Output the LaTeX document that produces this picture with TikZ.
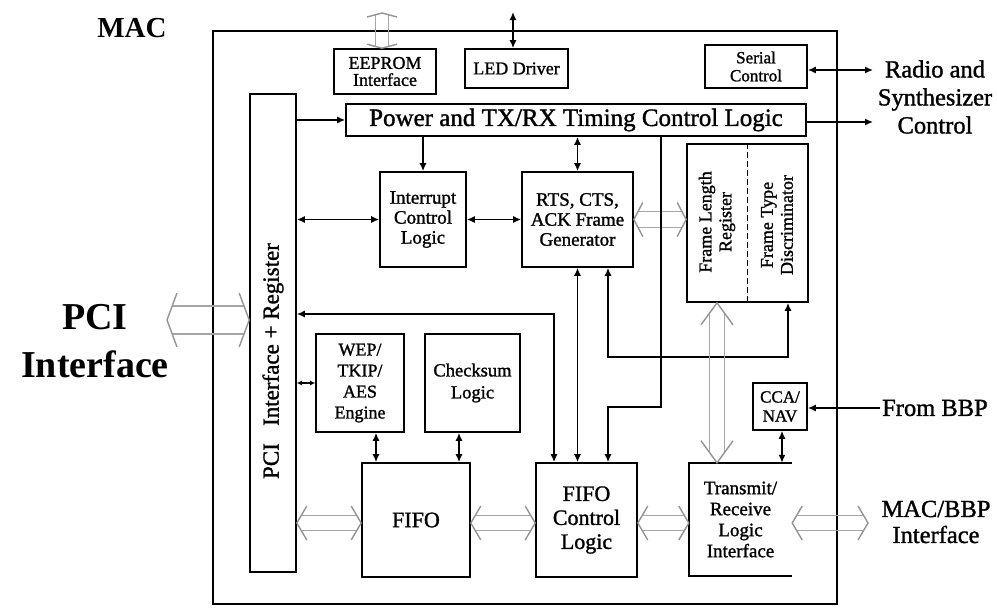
\documentclass[tikz,border=0pt]{standalone}
\usepackage{fontspec}
\setmainfont{Liberation Serif}[FakeBold=1.3]
\newfontfamily\boldlabel{Liberation Serif Bold}
\usetikzlibrary{arrows.meta,calc}
\newcommand\fs[2]{\fontsize{#1}{#2}\selectfont}
% horizontal hollow double arrow: #1 left tip, #2 right tip, #3 half gap, #4 head length, #5 head half width
\newcommand\hollowH[5]{%
  \draw[hshaft] let \p1=#1, \p2=#2 in
    ({\x1+#4*#3/#5*1pt},{\y1+#3*1pt}) -- ({\x2-#4*#3/#5*1pt},{\y1+#3*1pt})
    ({\x1+#4*#3/#5*1pt},{\y1-#3*1pt}) -- ({\x2-#4*#3/#5*1pt},{\y1-#3*1pt});
  \draw[hhead] let \p1=#1, \p2=#2 in
    ({\x1+#4*1pt},{\y1+#5*1pt}) -- (\x1,\y1) -- ({\x1+#4*1pt},{\y1-#5*1pt})
    ({\x2-#4*1pt},{\y1+#5*1pt}) -- (\x2,\y1) -- ({\x2-#4*1pt},{\y1-#5*1pt});
}
% vertical hollow double arrow: #1 top tip, #2 bottom tip
\newcommand\hollowV[5]{%
  \draw[hshaft] let \p1=#1, \p2=#2 in
    ({\x1+#3*1pt},{\y1-#4*#3/#5*1pt}) -- ({\x1+#3*1pt},{\y2+#4*#3/#5*1pt})
    ({\x1-#3*1pt},{\y1-#4*#3/#5*1pt}) -- ({\x1-#3*1pt},{\y2+#4*#3/#5*1pt});
  \draw[hhead] let \p1=#1, \p2=#2 in
    ({\x1-#5*1pt},{\y1-#4*1pt}) -- (\x1,\y1) -- ({\x1+#5*1pt},{\y1-#4*1pt})
    ({\x1-#5*1pt},{\y2+#4*1pt}) -- (\x1,\y2) -- ({\x1+#5*1pt},{\y2+#4*1pt});
}
\begin{document}
\begin{tikzpicture}[x=1pt,y=-1pt,
  box/.style={draw, line width=1.6pt, inner sep=0pt, align=center},
  plain/.style={inner sep=0pt, align=center},
  conn/.style={line width=1.5pt},
  tip/.style={conn,-{Latex[length=8pt,width=7pt]}},
  both/.style={conn,{Latex[length=8pt,width=7pt]}-{Latex[length=8pt,width=7pt]}},
  smallboth/.style={conn,{Latex[length=5pt,width=5pt]}-{Latex[length=5pt,width=5pt]}},
  hshaft/.style={line width=1.5pt, gray!70},
  hhead/.style={line width=1.4pt, gray!85},
  boxtext/.style={font=\fs{19}{20}}]
\useasboundingbox (0,0) rectangle (997,608);

% outer MAC box
\node[box, minimum width=624pt, minimum height=573pt] (mac) at (525,317.5) {};
\node[plain, font=\boldlabel\fs{29}{30}] (maclabel) at (132,28) {MAC};

% boxes
\node[box, minimum width=102pt, minimum height=45pt, font=\fs{18}{17}] (eeprom) at (385,71.5) {EEPROM\\Interface};
\node[box, minimum width=103pt, minimum height=39pt, font=\fs{18}{18}] (led) at (516.5,68.5) {LED Driver};
\node[box, minimum width=102pt, minimum height=43pt, font=\fs{17}{18}] (serial) at (756,66.5) {Serial\\Control};
\node[box, minimum width=460pt, minimum height=32pt, font=\fs{25}{26}] (power) at (576,120) {Power and TX/RX Timing Control Logic};
\node[box, minimum width=46pt, minimum height=478pt] (pcireg) at (273,333) {};
\node[plain, rotate=90, font=\fs{23}{24}] (pciregtext) at (273,361) {PCI\hspace{0.5em} Interface + Register};
\node[box, minimum width=86pt, minimum height=95pt, boxtext] (intr) at (423,219.5) {Interrupt\\Control\\Logic};
\node[box, minimum width=111pt, minimum height=95pt, boxtext] (rts) at (577.5,219.5) {RTS, CTS,\\ACK Frame\\Generator};
\node[box, minimum width=121pt, minimum height=158pt] (frame) at (747.5,223) {};
\draw[line width=1.4pt, dash pattern=on 6pt off 3pt] (frame.north) -- (frame.south);
\node[plain, rotate=90, font=\fs{18}{20}] (flr) at (717,222) {Frame Length\\Register};
\node[plain, rotate=90, font=\fs{18}{20}] (ftd) at (777,225) {Frame Type\\Discriminator};
\node[box, minimum width=88pt, minimum height=98pt, font=\fs{18}{21}] (wep) at (360,383) {WEP/\\TKIP/\\AES\\Engine};
\node[box, minimum width=95pt, minimum height=98pt, font=\fs{18.5}{22}] (chk) at (472.5,383) {Checksum\\Logic};
\node[box, minimum width=54pt, minimum height=47pt, font=\fs{17}{19}] (cca) at (780,406.5) {CCA/\\NAV};
\node[box, minimum width=108pt, minimum height=114pt, font=\fs{22}{24}] (fifo) at (416,520) {FIFO};
\node[box, minimum width=101pt, minimum height=114pt, font=\fs{22}{24}] (fifoctrl) at (586.5,520) {FIFO\\Control\\Logic};
\node[plain, minimum width=103pt, minimum height=113pt, font=\fs{19}{21}] (tx) at (740.5,519.5) {Transmit/\\Receive\\Logic\\Interface};
\draw[line width=1.6pt] (tx.north east) -- (tx.north west) -- (tx.south west) -- (tx.south east);

% outside labels
\node[plain, font=\fs{24.5}{28}] (radio) at (935,97) {Radio and\\Synthesizer\\Control};
\node[plain, anchor=west, font=\fs{24.5}{28}] (frombbp) at (882,408) {From BBP};
\node[plain, font=\fs{24.5}{26}] (macbbp) at (936,522) {MAC/BBP\\Interface};
\node[plain, font=\boldlabel\fs{38}{48}] (pciif) at (95,341) {PCI\\Interface};

% coordinates for free ends and bends
\coordinate (eetop) at (382,13);
\coordinate (ledtop) at (513,12);
\coordinate (radio1) at (873,70);
\coordinate (radio2) at (873,122);
\coordinate (k1) at (661,407);
\coordinate (k2) at (554,314);
\coordinate (k3) at (788,357);
\coordinate (k4) at (717,0);
\coordinate (bbp) at (880,408);
\coordinate (pciL) at (167,320);
\coordinate (k5) at (0,523);
\coordinate (mb) at (868,523);

% connectors
\hollowV{(eetop)}{(eetop |- eeprom.north)}{6.5}{4}{15}
\draw[both] (ledtop) -- (ledtop |- led.north);
\draw[both] (serial.east |- radio1) -- (radio1);
\draw[tip] (power.east |- radio2) -- (radio2);
\draw[tip] (pcireg.east |- power.west) -- (power.west);
\draw[tip] (power.south -| intr.north) -- (intr.north);
\draw[both] (power.south -| rts.north) -- (rts.north);
\draw[both] (pcireg.east |- intr.west) -- (intr.west);
\draw[both] (intr.east) -- (rts.west);
\hollowH{(rts.east)}{(frame.west |- rts.east)}{8}{9}{17}
\draw[tip] (power.south -| k1) -- (k1) -| ([xshift=21.5pt]fifoctrl.north);
\draw[both] (pcireg.east |- k2) -- (k2) -- (k2 |- fifoctrl.north);
\draw[both] (rts.south) -- (rts.south |- fifoctrl.north);
\draw[both] ([xshift=30.5pt]rts.south) |- (k3) -- (k3 |- frame.south);
\hollowV{(frame.south -| k4)}{(tx.north -| k4)}{7.5}{22}{16}
\draw[tip] (bbp) -- (bbp -| cca.east);
\draw[both] ([xshift=2pt]cca.south) -- ([xshift=2pt]cca.south |- tx.north);
\draw[smallboth] (pcireg.east |- wep.west) -- (wep.west);
\draw[both] ([xshift=16pt]wep.south) -- ([xshift=16pt]wep.south |- fifo.north);
\draw[both] ([xshift=-13.5pt]chk.south) -- ([xshift=-13.5pt]chk.south |- fifo.north);
\hollowH{(pciL)}{(pcireg.west |- pciL)}{14}{10}{27}
\hollowH{(pcireg.east |- k5)}{(fifo.west |- k5)}{7.5}{10}{17}
\hollowH{(fifo.east |- k5)}{(fifoctrl.west |- k5)}{7.5}{10}{17}
\hollowH{(fifoctrl.east |- k5)}{(tx.west |- k5)}{7.5}{10}{17}
\hollowH{(tx.east |- mb)}{(mb)}{7.5}{10}{17}
\end{tikzpicture}
\end{document}
